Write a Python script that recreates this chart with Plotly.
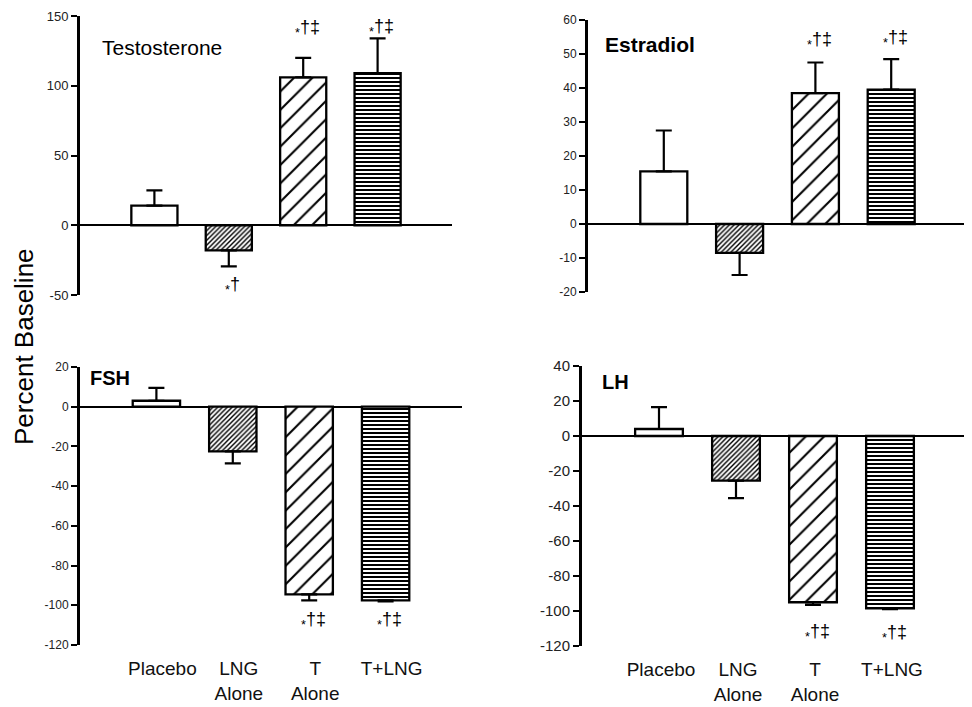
import plotly.graph_objects as go

# ---------------- data ----------------
categories = ["Placebo", "LNG Alone", "T Alone", "T+LNG"]
tick_labels = ["Placebo", "LNG<br>Alone", "T<br>Alone", "T+LNG"]

testosterone_mean = [14, -18, 106, 109]
testosterone_err = [11, 11.5, 14, 25]
testosterone_sig = ["", "*†", "*†‡", "*†‡"]
testosterone_ticks = [150, 100, 50, 0, -50]

estradiol_mean = [15.5, -8.5, 38.5, 39.5]
estradiol_err = [12, 6.5, 9, 9]
estradiol_sig = ["", "", "*†‡", "*†‡"]
estradiol_ticks = [60, 50, 40, 30, 20, 10, 0, -10, -20]

fsh_mean = [3, -22.5, -94.5, -97.5]
fsh_err = [6.5, 6, 3, 0.5]
fsh_sig = ["", "", "*†‡", "*†‡"]
fsh_ticks = [20, 0, -20, -40, -60, -80, -100, -120]

lh_mean = [4, -25.5, -95, -98.5]
lh_err = [12.5, 10, 1.5, 0.5]
lh_sig = ["", "", "*†‡", "*†‡"]
lh_ticks = [40, 20, 0, -20, -40, -60, -80, -100, -120]

y_title = "Percent Baseline"

# ---------------- styling ----------------
FONT = "Liberation Sans, Arial, sans-serif"
OFF = 8                      # page body margin of the html page
W, H = 972 - OFF, 707 - OFF  # figure fills the rest of the window


def fx(px):
    return (px - OFF) / W


def fy(py):
    return 1 - (py - OFF) / H


pattern_shape = ["", "/", "/", "-"]
pattern_size = [8, 3.4, 13, 4]
pattern_solid = [0.3, 0.42, 0.16, 0.5]

panels = [
    dict(title="Testosterone", bold=False, tsize=21, tpos=(100, 47),
         mean=testosterone_mean, err=testosterone_err, sig=testosterone_sig,
         ticks=testosterone_ticks,
         xpx=(80, 452), ypx=(16, 295), yr=(-50, 150), tf=13,
         sig_y={1: -43, 2: 141, 3: 142}, labels=False, shift=0),
    dict(title="Estradiol", bold=True, tsize=21, tpos=(603, 44),
         mean=estradiol_mean, err=estradiol_err, sig=estradiol_sig,
         ticks=estradiol_ticks,
         xpx=(588, 967), ypx=(20, 292), yr=(-20, 60), tf=12,
         sig_y={2: 54, 3: 54.5}, labels=False, shift=0),
    dict(title="FSH", bold=True, tsize=20, tpos=(88, 378),
         mean=fsh_mean, err=fsh_err, sig=fsh_sig,
         ticks=fsh_ticks,
         xpx=(80, 462), ypx=(367, 645), yr=(-120, 20), tf=12,
         sig_y={2: -107.5, 3: -107.5}, labels=True, shift=6),
    dict(title="LH", bold=True, tsize=20, tpos=(600, 382),
         mean=lh_mean, err=lh_err, sig=lh_sig,
         ticks=lh_ticks,
         xpx=(582, 967), ypx=(366, 646), yr=(-120, 40), tf=15,
         sig_y={2: -112.5, 3: -113}, labels=True, shift=2),
]

fig = go.Figure()
annotations = []

for i, p in enumerate(panels, start=1):
    xa = "x" if i == 1 else f"x{i}"
    ya = "y" if i == 1 else f"y{i}"
    mean, err = p["mean"], p["err"]
    plus = [e if m >= 0 else 0 for m, e in zip(mean, err)]
    minus = [e if m < 0 else 0 for m, e in zip(mean, err)]
    fig.add_trace(go.Bar(
        x=categories, y=mean, width=0.62,
        xaxis=xa, yaxis=ya, showlegend=False,
        marker=dict(color="white",
                    line=dict(color="black", width=2.3),
                    pattern=dict(shape=pattern_shape, size=pattern_size,
                                 solidity=pattern_solid, fgcolor="black",
                                 bgcolor="white", fgopacity=1,
                                 fillmode="replace")),
        error_y=dict(type="data", symmetric=False, array=plus, arrayminus=minus,
                     color="black", thickness=2.2, width=8),
    ))

    dx = (fx(p["xpx"][0]), min(1.0, fx(p["xpx"][1])))
    dy = (fy(p["ypx"][1]), fy(p["ypx"][0]))
    xkey = "xaxis" if i == 1 else f"xaxis{i}"
    ykey = "yaxis" if i == 1 else f"yaxis{i}"
    xax = dict(domain=list(dx), anchor=ya, range=[-1, 4], showgrid=False,
               showline=False, zeroline=False, ticks="", automargin=False,
               showticklabels=p["labels"], categoryorder="array",
               categoryarray=categories, fixedrange=True)
    if p["labels"]:
        xax.update(tickmode="array", tickvals=categories, ticktext=tick_labels,
                   tickfont=dict(family=FONT, size=19, color="#111"),
                   ticklabelstandoff=10, ticklabelshift=p["shift"])
    yax = dict(domain=list(dy), anchor=xa, range=list(p["yr"]),
               tickmode="array", tickvals=p["ticks"],
               ticktext=[str(v) for v in p["ticks"]], automargin=False,
               showgrid=False, showline=True, linecolor="black", linewidth=3,
               ticks="outside", ticklen=6, tickwidth=2, tickcolor="black",
               zeroline=True, zerolinecolor="black", zerolinewidth=2,
               tickfont=dict(family=FONT, size=p["tf"], color="#222"),
               fixedrange=True)
    fig.update_layout({xkey: xax, ykey: yax})

    # panel title
    t = f"<b>{p['title']}</b>" if p["bold"] else p["title"]
    annotations.append(dict(text=t, xref="paper", yref="paper",
                            x=fx(p["tpos"][0]), y=fy(p["tpos"][1]),
                            xanchor="left", yanchor="middle", showarrow=False,
                            font=dict(family=FONT, size=p["tsize"], color="black")))
    # significance markers
    for k, s in enumerate(p["sig"]):
        if not s:
            continue
        txt = "<sub>*</sub>" + s[1:]
        annotations.append(dict(text=txt, xref=xa, yref=ya, x=categories[k],
                                y=p["sig_y"][k], xshift=4, showarrow=False,
                                xanchor="center", yanchor="middle",
                                font=dict(family=FONT, size=18, color="black")))

annotations.append(dict(text=y_title, xref="paper", yref="paper",
                        x=fx(24), y=fy(347), textangle=-90, showarrow=False,
                        xanchor="center", yanchor="middle",
                        font=dict(family=FONT, size=26, color="black")))

fig.update_layout(template="none", width=W, height=H,
                  margin=dict(l=0, r=0, t=0, b=0, pad=0, autoexpand=False),
                  paper_bgcolor="white", plot_bgcolor="white",
                  font=dict(family=FONT, color="black"),
                  annotations=annotations, bargap=0.38)

fig.write_html("out.html")
